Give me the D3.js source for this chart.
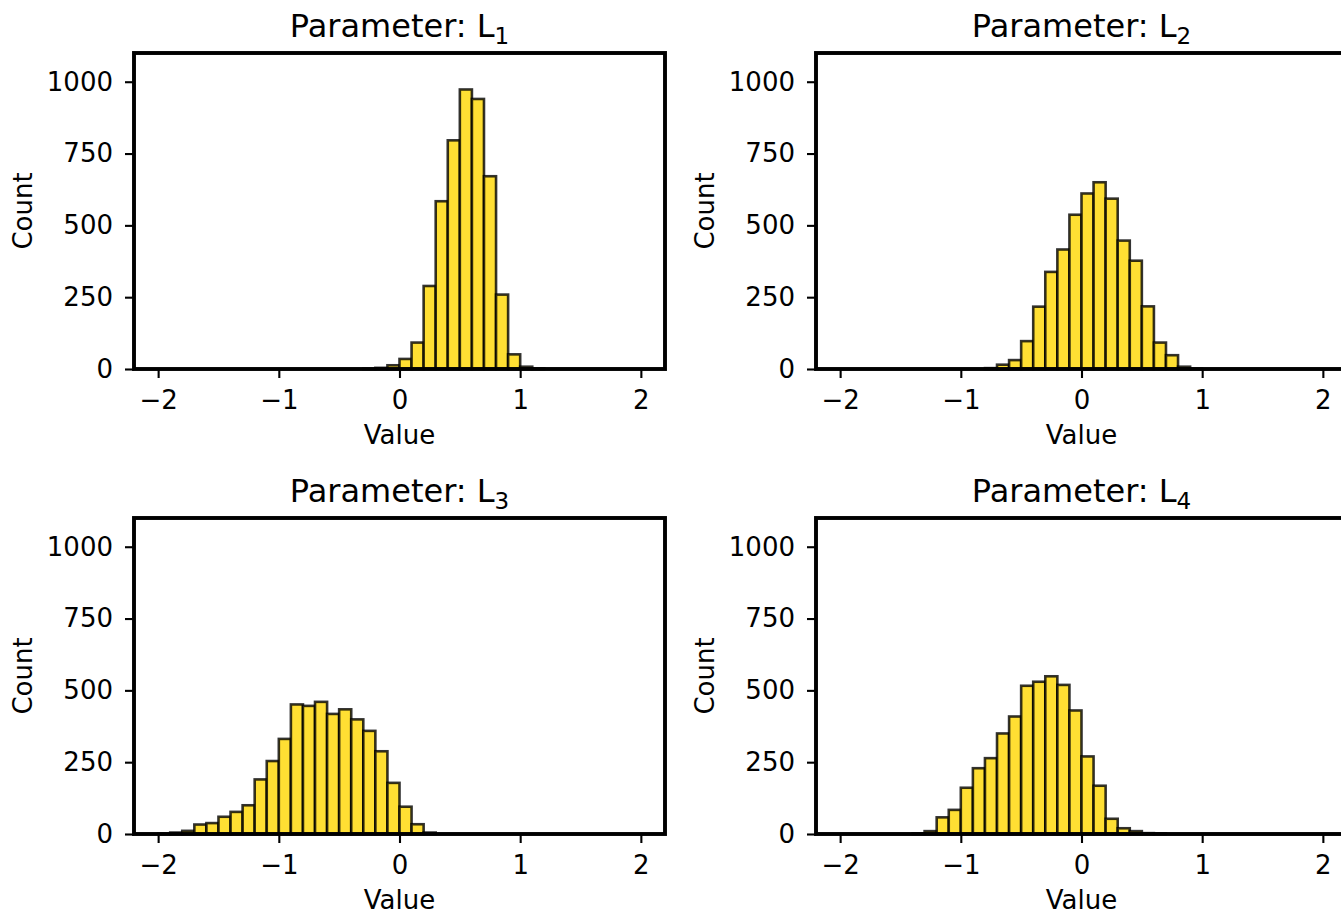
<html lang="en">
<head>
<meta charset="utf-8">
<title>Parameter histograms</title>
<script src="https://d3js.org/d3.v7.min.js"></script>
<style>
  body { margin: 0; background: #fff; }
  text { font-family: "DejaVu Sans", sans-serif; fill: #000; }
</style>
</head>
<body>
<div id="chart"></div>
<script>

// left edge of every bin (bin width 0.1)
var binLefts = [-2.0, -1.9, -1.8, -1.7, -1.6, -1.5, -1.4, -1.3, -1.2, -1.1,
                -1.0, -0.9, -0.8, -0.7, -0.6, -0.5, -0.4, -0.3, -0.2, -0.1,
                 0.0,  0.1,  0.2,  0.3,  0.4,  0.5,  0.6,  0.7,  0.8,  0.9,
                 1.0,  1.1,  1.2,  1.3,  1.4,  1.5,  1.6,  1.7,  1.8,  1.9];
var binWidth = 0.1;

// counts
var countsL1 = [0, 0, 0, 0, 0, 0, 0, 0, 0, 0,
                0, 0, 0, 0, 0, 0, 0, 1, 4, 13,
                35, 92, 289, 584, 796, 973, 940, 671, 259, 51,
                8, 2, 0, 0, 0, 0, 0, 0, 0, 0];
var countsL2 = [0, 0, 0, 0, 0, 0, 0, 0, 0, 0,
                0, 0, 3, 15, 31, 97, 217, 338, 416, 537,
                611, 650, 593, 447, 377, 218, 92, 48, 8, 1,
                0, 0, 0, 0, 0, 0, 0, 0, 0, 0];
var countsL3 = [1, 5, 11, 33, 38, 60, 77, 100, 190, 254,
                331, 451, 446, 460, 418, 434, 399, 359, 288, 178,
                95, 34, 5, 0, 0, 0, 0, 0, 0, 0,
                0, 0, 0, 0, 0, 0, 0, 0, 0, 0];
var countsL4 = [0, 0, 0, 0, 0, 0, 2, 10, 58, 84,
                161, 229, 264, 350, 409, 516, 530, 549, 519, 430,
                270, 168, 53, 20, 10, 3, 2, 0, 0, 0,
                0, 0, 0, 0, 0, 0, 0, 0, 0, 0];

var paramSubs = ["1", "2", "3", "4"];
var allCounts = [countsL1, countsL2, countsL3, countsL4];

var xTicks = [-2, -1, 0, 1, 2];
var yTicks = [0, 250, 500, 750, 1000];
var xDomain = [-2.2, 2.2];
var yDomain = [0, 1100];

// layout of the 2x2 grid
var W = 1341, H = 914;
var colLeft = [134, 816];
var rowTop = [53, 518];
var pw = 531, ph = 316;

var svg = d3.select("#chart").append("svg")
    .attr("width", W)
    .attr("height", H);

var fmt = d3.format("d");

allCounts.forEach(function(counts, i) {
  var col = i % 2, row = Math.floor(i / 2);
  var g = svg.append("g")
      .attr("transform", "translate(" + colLeft[col] + "," + rowTop[row] + ")");

  var x = d3.scaleLinear().domain(xDomain).range([0, pw]);
  var y = d3.scaleLinear().domain(yDomain).range([ph, 0]);

  var bins = binLefts.map(function(b, j) { return {x0: b, x1: b + binWidth, count: counts[j]}; })
      .filter(function(d) { return d.count > 0; });

  // bars
  g.selectAll("rect.bar")
    .data(bins)
    .enter().append("rect")
      .attr("class", "bar")
      .attr("x", function(d) { return x(d.x0); })
      .attr("width", function(d) { return x(d.x1) - x(d.x0); })
      .attr("y", function(d) { return y(d.count); })
      .attr("height", function(d) { return y(0) - y(d.count); })
      .attr("fill", "#FFDF33")
      .attr("stroke", "rgba(0,0,0,0.8)")
      .attr("stroke-width", 2.6);

  // axes
  var xa = g.append("g")
      .attr("transform", "translate(0," + ph + ")")
      .call(d3.axisBottom(x).tickValues(xTicks).tickFormat(fmt).tickSize(9).tickPadding(13));
  var ya = g.append("g")
      .call(d3.axisLeft(y).tickValues(yTicks).tickFormat(fmt).tickSize(9).tickPadding(12));

  [xa, ya].forEach(function(a) {
    a.select(".domain").remove();
    a.selectAll(".tick line").attr("stroke", "#000").attr("stroke-width", 2.1);
    a.selectAll(".tick text")
      .attr("fill", "#000")
      .style("font-family", "DejaVu Sans")
      .style("font-size", "26px");
  });

  // frame on top of bars
  g.append("rect")
      .attr("width", pw)
      .attr("height", ph)
      .attr("fill", "none")
      .attr("stroke", "#000")
      .attr("stroke-width", 3.9);

  // labels
  g.append("text")
      .attr("x", pw / 2)
      .attr("y", ph + 75)
      .attr("text-anchor", "middle")
      .style("font-size", "26px")
      .text("Value");

  g.append("text")
      .attr("transform", "translate(" + (-102) + "," + (ph / 2) + ") rotate(-90)")
      .attr("text-anchor", "middle")
      .style("font-size", "26px")
      .text("Count");

  var t = g.append("text")
      .attr("x", pw / 2)
      .attr("y", -16)
      .attr("text-anchor", "middle")
      .style("font-size", "32px");
  t.append("tspan").text("Parameter: L");
  t.append("tspan")
      .attr("dy", 7)
      .style("font-size", "23px")
      .text(paramSubs[i]);
});

</script>
</body>
</html>
